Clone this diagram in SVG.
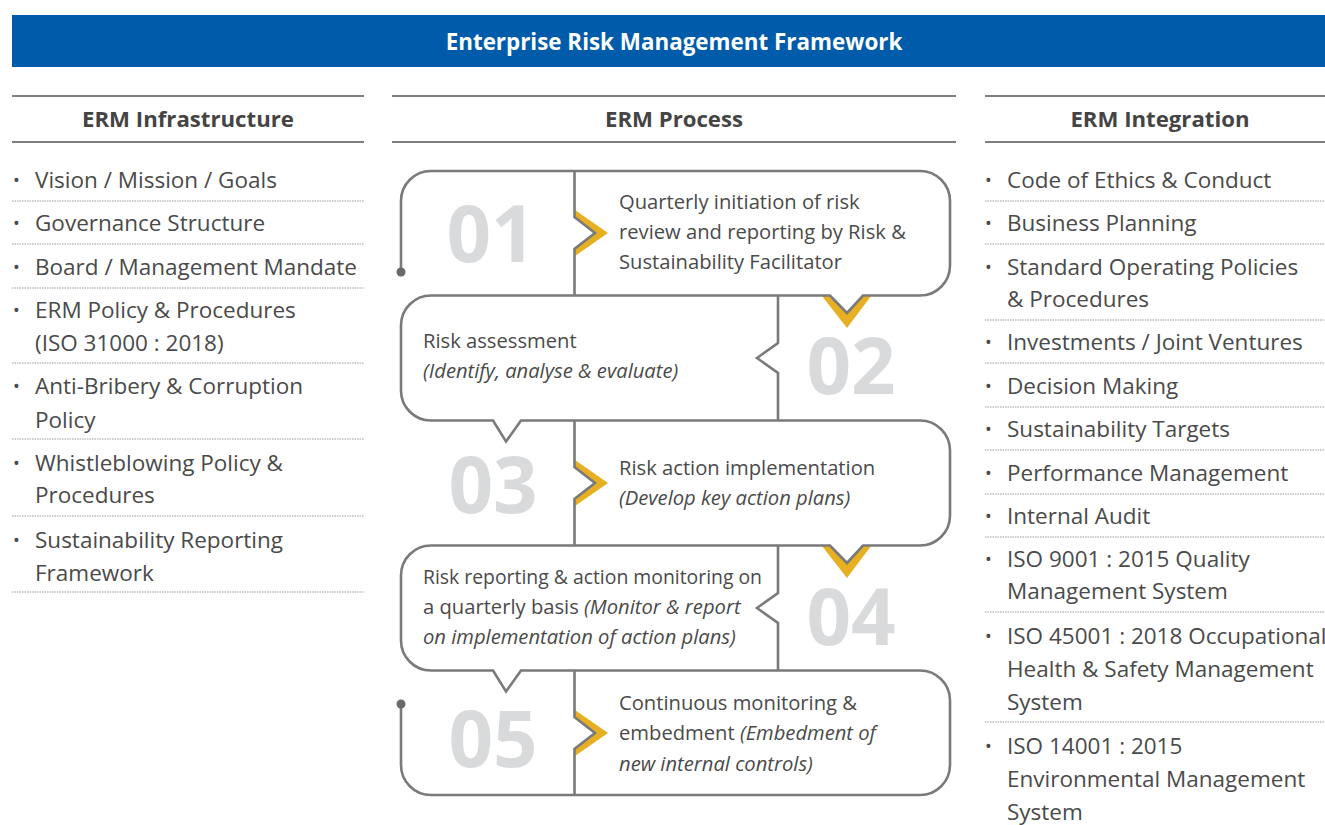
<svg xmlns="http://www.w3.org/2000/svg" width="1325" height="825" viewBox="0 0 1325 825">
<style>
text{font-family:"Open Sans","Noto Sans","Liberation Sans",sans-serif;fill:#4a4a4a}
.title{font-size:22.4px;font-weight:bold;fill:#fff}
.hd{font-size:22.2px;font-weight:bold;fill:#444}
.li{font-size:22.5px}
.bu{font-size:18px}
.pt{font-size:20.2px}
.it{font-style:italic}
.num{font-size:78px;font-weight:bold;fill:#d9dadb}
.rule{stroke:#555;stroke-width:1.3}
.dot{stroke:#9a9a9a;stroke-width:1;stroke-dasharray:1.5 1}
.ln{fill:none;stroke:#7a7a7a;stroke-width:2.6;stroke-linejoin:miter}
.yel{fill:#e6b022}
</style>
<rect x="12" y="15" width="1313" height="52" fill="#005bab"/>
<text class="title" x="674" y="50" text-anchor="middle">Enterprise Risk Management Framework</text>

<g id="col-infrastructure">
<line class="rule" x1="12" y1="96" x2="364" y2="96"/>
<line class="rule" x1="12" y1="142" x2="364" y2="142"/>
<text class="hd" x="188" y="127" text-anchor="middle">ERM Infrastructure</text>
<text class="bu" x="13" y="187">•</text><text class="li" x="35" y="188">Vision / Mission / Goals</text>
<text class="bu" x="13" y="230">•</text><text class="li" x="35" y="231">Governance Structure</text>
<text class="bu" x="13" y="274">•</text><text class="li" x="35" y="275">Board / Management Mandate</text>
<text class="bu" x="13" y="317">•</text><text class="li" x="35" y="318">ERM Policy &amp; Procedures</text>
<text class="li" x="35" y="351">(ISO 31000 : 2018)</text>
<text class="bu" x="13" y="393">•</text><text class="li" x="35" y="394">Anti-Bribery &amp; Corruption</text>
<text class="li" x="35" y="428">Policy</text>
<text class="bu" x="13" y="470">•</text><text class="li" x="35" y="471">Whistleblowing Policy &amp;</text>
<text class="li" x="35" y="503">Procedures</text>
<text class="bu" x="13" y="547">•</text><text class="li" x="35" y="548">Sustainability Reporting</text>
<text class="li" x="35" y="581">Framework</text>
<line class="dot" x1="12" y1="201" x2="364" y2="201"/>
<line class="dot" x1="12" y1="244" x2="364" y2="244"/>
<line class="dot" x1="12" y1="288" x2="364" y2="288"/>
<line class="dot" x1="12" y1="363" x2="364" y2="363"/>
<line class="dot" x1="12" y1="439" x2="364" y2="439"/>
<line class="dot" x1="12" y1="516" x2="364" y2="516"/>
<line class="dot" x1="12" y1="592" x2="364" y2="592"/>
</g>

<g id="col-process-header">
<line class="rule" x1="392" y1="96" x2="956" y2="96"/>
<line class="rule" x1="392" y1="142" x2="956" y2="142"/>
<text class="hd" x="674" y="127" text-anchor="middle">ERM Process</text>
</g>

<g id="col-integration">
<line class="rule" x1="985" y1="96" x2="1325" y2="96"/>
<line class="rule" x1="985" y1="142" x2="1325" y2="142"/>
<text class="hd" x="1160" y="127" text-anchor="middle">ERM Integration</text>
<text class="bu" x="985" y="187">•</text><text class="li" x="1007" y="188">Code of Ethics &amp; Conduct</text>
<text class="bu" x="985" y="230">•</text><text class="li" x="1007" y="231">Business Planning</text>
<text class="bu" x="985" y="274">•</text><text class="li" x="1007" y="275">Standard Operating Policies</text>
<text class="li" x="1007" y="307">&amp; Procedures</text>
<text class="bu" x="985" y="349">•</text><text class="li" x="1007" y="350">Investments / Joint Ventures</text>
<text class="bu" x="985" y="393">•</text><text class="li" x="1007" y="394">Decision Making</text>
<text class="bu" x="985" y="436">•</text><text class="li" x="1007" y="437">Sustainability Targets</text>
<text class="bu" x="985" y="480">•</text><text class="li" x="1007" y="481">Performance Management</text>
<text class="bu" x="985" y="523">•</text><text class="li" x="1007" y="524">Internal Audit</text>
<text class="bu" x="985" y="566">•</text><text class="li" x="1007" y="567">ISO 9001 : 2015 Quality</text>
<text class="li" x="1007" y="599">Management System</text>
<text class="bu" x="985" y="643">•</text><text class="li" x="1007" y="644">ISO 45001 : 2018 Occupational</text>
<text class="li" x="1007" y="677">Health &amp; Safety Management</text>
<text class="li" x="1007" y="710">System</text>
<text class="bu" x="985" y="753">•</text><text class="li" x="1007" y="754">ISO 14001 : 2015</text>
<text class="li" x="1007" y="787">Environmental Management</text>
<text class="li" x="1007" y="820">System</text>
<line class="dot" x1="985" y1="201" x2="1325" y2="201"/>
<line class="dot" x1="985" y1="244" x2="1325" y2="244"/>
<line class="dot" x1="985" y1="320" x2="1325" y2="320"/>
<line class="dot" x1="985" y1="363" x2="1325" y2="363"/>
<line class="dot" x1="985" y1="407" x2="1325" y2="407"/>
<line class="dot" x1="985" y1="450" x2="1325" y2="450"/>
<line class="dot" x1="985" y1="494" x2="1325" y2="494"/>
<line class="dot" x1="985" y1="537" x2="1325" y2="537"/>
<line class="dot" x1="985" y1="612" x2="1325" y2="612"/>
<line class="dot" x1="985" y1="722" x2="1325" y2="722"/>
</g>

<g id="connectors">
<polygon class="yel" points="575,210 608,233 575,256 575,249 595,233 575,217"/>
<polygon class="yel" points="575,460 608,483 575,506 575,499 595,483 575,467"/>
<polygon class="yel" points="575,710 608,733 575,756 575,749 595,733 575,717"/>
<polygon class="yel" points="822,296 847,328 871,296 863,296 847,313 830,296"/>
<polygon class="yel" points="822,546 847,578 871,546 863,546 847,563 830,546"/>
<path class="ln" d="M401,272 V201 A30,30 0 0 1 431,171 H920 A30,30 0 0 1 950,201 V265.5 A30,30 0 0 1 920,295.5 H863 L847,313 L830,295.5 H431 A30,30 0 0 0 401,325.5 V390.5 A30,30 0 0 0 431,420.5 H493 L506,441.5 L521,420.5 H920 A30,30 0 0 1 950,450.5 V515.5 A30,30 0 0 1 920,545.5 H863 L847,563 L830,545.5 H431 A30,30 0 0 0 401,575.5 V640.5 A30,30 0 0 0 431,670.5 H493 L506,691.5 L521,670.5 H920 A30,30 0 0 1 950,700.5 V765 A30,30 0 0 1 920,795 H431 A30,30 0 0 1 401,765 V704"/>
<path class="ln" d="M574.5,171 V217 L595,233 L574.5,249 V295.5"/>
<path class="ln" d="M574.5,420.5 V467 L595,483 L574.5,499 V545.5"/>
<path class="ln" d="M574.5,670.5 V717 L595,733 L574.5,749 V795"/>
<path class="ln" d="M778,295.5 V343 L757,358 L778,373 V420.5"/>
<path class="ln" d="M778,545.5 V593 L757,608 L778,623 V670.5"/>
<circle cx="401" cy="272" r="4.5" fill="#6a6a6a"/>
<circle cx="401" cy="704" r="4.5" fill="#6a6a6a"/>
</g>

<g id="step-01">
<text class="num" x="491" y="262" text-anchor="middle">01</text>
<text class="pt" x="619" y="209">Quarterly initiation of risk</text>
<text class="pt" x="619" y="239">review and reporting by Risk &amp;</text>
<text class="pt" x="619" y="269">Sustainability Facilitator</text>
</g>
<g id="step-02">
<text class="num" x="851" y="394" text-anchor="middle">02</text>
<text class="pt" x="423" y="348">Risk assessment</text>
<text class="pt it" x="423" y="378">(Identify, analyse &amp; evaluate)</text>
</g>
<g id="step-03">
<text class="num" x="493" y="513" text-anchor="middle">03</text>
<text class="pt" x="619" y="475">Risk action implementation</text>
<text class="pt it" x="619" y="505">(Develop key action plans)</text>
</g>
<g id="step-04">
<text class="num" x="851" y="645" text-anchor="middle">04</text>
<text class="pt" x="423" y="584" textLength="339" lengthAdjust="spacingAndGlyphs">Risk reporting &amp; action monitoring on</text>
<text class="pt" x="423" y="614">a quarterly basis <tspan class="it">(Monitor &amp; report</tspan></text>
<text class="pt it" x="423" y="644">on implementation of action plans)</text>
</g>
<g id="step-05">
<text class="num" x="493" y="767" text-anchor="middle">05</text>
<text class="pt" x="619" y="710">Continuous monitoring &amp;</text>
<text class="pt" x="619" y="740">embedment <tspan class="it">(Embedment of</tspan></text>
<text class="pt it" x="619" y="771">new internal controls)</text>
</g>
</svg>
